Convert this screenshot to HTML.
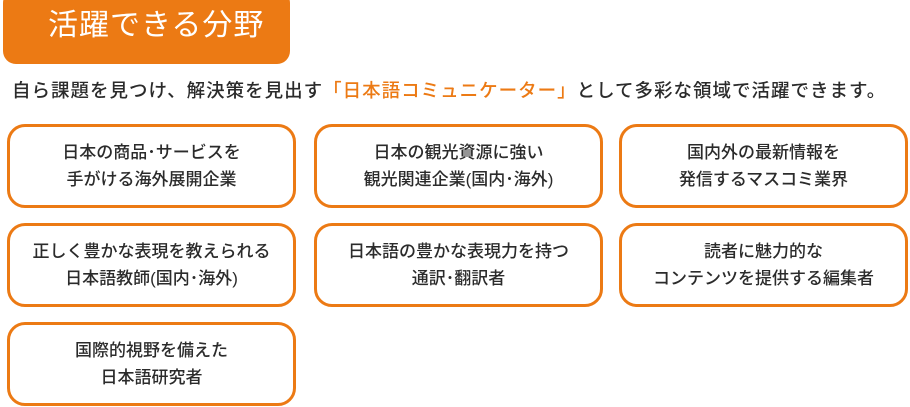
<!DOCTYPE html>
<html><head><meta charset="utf-8"><style>
body{margin:0;width:910px;height:407px;background:#fff;position:relative;overflow:hidden;font-family:"Liberation Sans","Noto Sans CJK JP",sans-serif;color:#2b2b2b}
.hd{position:absolute;left:3px;top:-10px;width:287px;height:74px;background:#ec7a14;border-radius:13px;color:#fff;font-size:30px;line-height:30px;box-sizing:border-box;padding:21px 0 0 45px;letter-spacing:1px}
.sub{position:absolute;left:12px;top:78px;font-size:18.5px;line-height:26px;white-space:nowrap;letter-spacing:1px;font-weight:500}
.sub span{color:#ec7a14}
.b{position:absolute;width:289px;height:84px;box-sizing:border-box;border:3px solid #ec7a14;border-radius:18px;display:flex;align-items:center;justify-content:center;text-align:center;font-size:17px;line-height:27px;font-weight:500}
</style></head><body>
<div class="hd">活躍できる分野</div>
<div class="sub">自ら課題を見つけ、解決策を見出す<span>「日本語コミュニケーター」</span>として多彩な領域で活躍できます。</div>
<div class="b" style="left:7px;top:124px">日本の商品･サービスを<br>手がける海外展開企業</div>
<div class="b" style="left:314px;top:124px">日本の観光資源に強い<br>観光関連企業(国内･海外)</div>
<div class="b" style="left:619px;top:124px">国内外の最新情報を<br>発信するマスコミ業界</div>
<div class="b" style="left:7px;top:223px">正しく豊かな表現を教えられる<br>日本語教師(国内･海外)</div>
<div class="b" style="left:314px;top:223px">日本語の豊かな表現力を持つ<br>通訳･翻訳者</div>
<div class="b" style="left:619px;top:223px">読者に魅力的な<br>コンテンツを提供する編集者</div>
<div class="b" style="left:7px;top:322px">国際的視野を備えた<br>日本語研究者</div>
</body></html>
